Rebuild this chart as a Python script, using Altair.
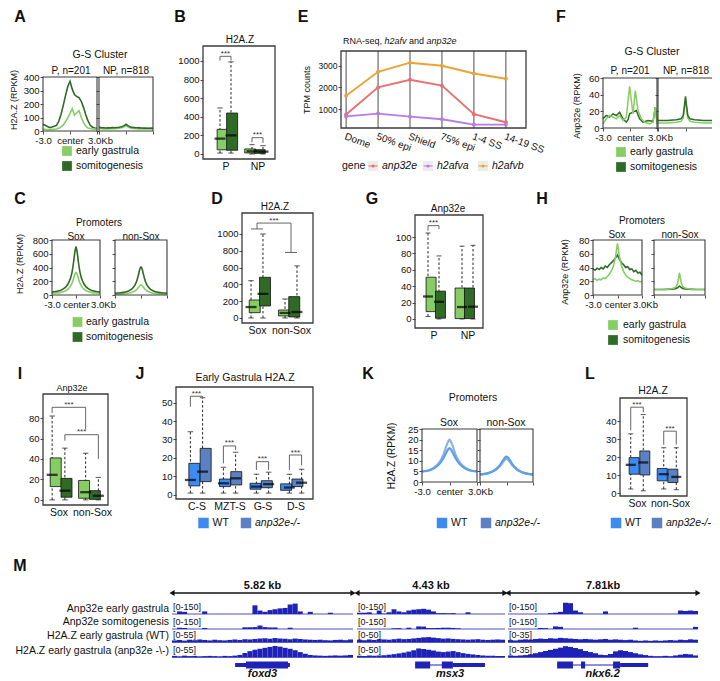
import json
import altair as alt
import pandas as pd

FONT = "Liberation Sans"
W, H = 704, 673

# ======================= DATA =======================
conds_dev = ["early gastrula", "somitogenesis"]
conds_ko = ["WT", "anp32e-/-"]

grid25 = [-3, -2.75, -2.5, -2.25, -2, -1.75, -1.5, -1.25, -1, -0.75, -0.5, -0.25, 0,
          0.25, 0.5, 0.75, 1, 1.25, 1.5, 1.75, 2, 2.25, 2.5, 2.75, 3]
grid19 = [-3, -2.5, -2, -1.5, -1, -0.7, -0.5, -0.3, -0.15, 0, 0.15, 0.3, 0.5, 0.7, 1, 1.5, 2, 2.5, 3]
grid13 = [-3, -2, -1, -0.5, -0.25, -0.1, 0, 0.1, 0.25, 0.5, 1, 2, 3]

# A: H2A.Z profiles, G-S cluster
A_P_early = [15, 12, 10, 10, 12, 12, 15, 20, 30, 45, 68, 98, 130, 165, 118, 135, 150, 102, 62, 36, 22, 18, 15, 14, 12]
A_P_somito = [50, 42, 33, 25, 30, 36, 42, 72, 122, 190, 262, 330, 368, 310, 270, 255, 248, 220, 175, 120, 75, 42, 28, 22, 20]
A_NP_early = [18, 17, 16, 17, 16, 17, 18, 17, 18, 20, 24, 30, 38, 30, 23, 19, 18, 17, 16, 17, 16, 15, 16, 15, 15]
A_NP_somito = [27, 25, 24, 22, 24, 23, 25, 24, 26, 28, 31, 38, 50, 38, 30, 27, 25, 24, 23, 22, 21, 22, 20, 21, 20]

# B: H2A.Z box plots (P / NP)
B_groups = ["P", "NP"]
B_lo = [10, 10, 0, 0]
B_q1 = [45, 40, 11, 7]
B_med = [165, 200, 29, 25]
B_q3 = [265, 440, 54, 46]
B_hi = [495, 990, 100, 89]

# C: H2A.Z promoter profiles
C_sox_early = [25, 28, 35, 50, 85, 125, 170, 240, 300, 330, 300, 240, 170, 125, 85, 50, 35, 28, 25]
C_sox_somito = [45, 50, 65, 95, 160, 240, 330, 480, 620, 700, 620, 480, 330, 240, 160, 95, 65, 50, 45]
C_non_early = [12, 14, 17, 25, 40, 58, 80, 110, 135, 150, 135, 110, 80, 58, 40, 25, 17, 14, 12]
C_non_somito = [28, 30, 38, 55, 95, 145, 200, 290, 370, 410, 370, 290, 200, 145, 95, 55, 38, 30, 28]

# D: H2A.Z box plots (Sox / non-Sox)
D_groups = ["Sox", "non-Sox"]
D_lo = [0, 0, 0, 0]
D_q1 = [63, 143, 24, 12]
D_med = [130, 286, 60, 71]
D_q3 = [214, 484, 95, 254]
D_hi = [444, 1000, 226, 620]

# E: RNA-seq
stages = ["Dome", "50% epi", "Shield", "75% epi", "1-4 SS", "14-19 SS"]
genes = ["anp32e", "h2afva", "h2afvb"]
E_anp32e = [750, 2000, 2350, 2080, 760, 390]
E_h2afva = [660, 790, 650, 530, 280, 280]
E_h2afvb = [1610, 2720, 3140, 3000, 2640, 2400]

# F: Anp32e profiles, G-S cluster
F_P_early_x = [-3, -2.63, -2.26, -1.89, -1.52, -1.15, -0.78, -0.41, -0.04, 0.15, 0.33, 0.59, 0.89, 1.26, 1.63, 2.19, 2.56, 2.81, 3]
F_P_early = [5, 11, 15, 13, 11, 15, 9, 13, 50, 33, 17, 45, 21, 11, 7, 5, 7, 25, 5]
F_P_somito_x = [-3, -2.63, -2.26, -1.89, -1.52, -1.15, -0.78, -0.41, -0.22, -0.04, 0.33, 0.7, 1.07, 1.44, 2.0, 2.56, 2.81, 3]
F_P_somito = [11, 15, 13, 17, 15, 19, 11, 7, 10, 17, 19, 21, 11, 7, 9, 8, 25, 9]
F_NP_early = [6, 6, 7, 8, 12, 25, 35, 25, 12, 8, 7, 6, 6]
F_NP_somito = [9, 9, 10, 11, 15, 28, 38, 28, 15, 11, 10, 9, 9]

# G: Anp32e box plots (P / NP)
G_groups = ["P", "NP"]
G_lo = [3, 0, 0, 0]
G_q1 = [9, 1, 0.5, 0.5]
G_med = [27.5, 21, 14.6, 15]
G_q3 = [51, 34, 37.8, 37.8]
G_hi = [105, 77, 89, 90]

# H: Anp32e promoter profiles
H_sox_early = [22, 24, 21, 23, 22, 25, 24, 27, 30, 35, 42, 55, 75, 55, 42, 34, 29, 26, 24, 22, 21, 20, 21, 19, 20]
H_sox_somito = [38, 36, 39, 37, 40, 38, 42, 40, 44, 47, 50, 54, 58, 52, 47, 44, 40, 41, 37, 38, 34, 36, 32, 33, 29]
H_non_early = [8, 8, 9, 11, 16, 25, 32, 25, 16, 11, 9, 8, 8]
H_non_somito = [8, 8, 8.5, 9, 10.5, 12, 13, 12, 10.5, 9, 8.5, 8, 8]

# I: Anp32e box plots (Sox / non-Sox)
I_groups = ["Sox", "non-Sox"]
I_lo = [0, 0, 0, 0]
I_q1 = [13, 2.6, 1.6, 0.5]
I_med = [24.5, 9, 7.5, 4]
I_q3 = [41, 21, 19, 9]
I_hi = [82, 50.6, 45.6, 22]

# J: early gastrula H2A.Z, WT vs anp32e-/-
J_groups = ["C-S", "MZT-S", "G-S", "D-S"]
J_lo = [1, 1, 1, 1, 1, 1, 1, 1]
J_q1 = [4.9, 7.2, 4.5, 5.4, 3.1, 3.9, 2.5, 4.5]
J_med = [8.1, 12.6, 6.3, 9, 4.5, 5.8, 4, 6.6]
J_q3 = [17.1, 25.2, 8.6, 12.6, 6.3, 7.7, 6, 8.6]
J_hi = [34.2, 52.6, 15, 23.1, 11.2, 12.3, 11.2, 13.9]

# K: H2A.Z promoter profiles, WT vs mutant
K_sox_wt = [5, 5.2, 5.8, 7, 9, 11, 12.6, 14.3, 15.4, 16, 15.4, 14.3, 12.6, 11, 9, 7, 5.8, 5.2, 5]
K_sox_mut = [5, 5.3, 6, 7.5, 10, 12.5, 15, 17.5, 19, 20, 19, 17.5, 15, 12.5, 10, 7.5, 6, 5.3, 5]
K_non_wt = [3.6, 3.8, 4.3, 5.2, 6.8, 8.2, 9.5, 10.8, 11.6, 12, 11.6, 10.8, 9.5, 8.2, 6.8, 5.2, 4.3, 3.8, 3.6]
K_non_mut = [3.5, 3.7, 4.2, 5, 6.4, 7.6, 8.8, 9.9, 10.6, 11, 10.6, 9.9, 8.8, 7.6, 6.4, 5, 4.2, 3.7, 3.5]

# L: H2A.Z box plots, WT vs mutant
L_groups = ["Sox", "non-Sox"]
L_lo = [2.4, 1.4, 2.4, 2]
L_q1 = [10.6, 10.2, 6.9, 6]
L_med = [15.8, 17.1, 10.6, 9.1]
L_q3 = [19.8, 23.5, 13.8, 13.4]
L_hi = [33, 43.7, 25.3, 25.3]

# M: genome browser tracks
regions = ["foxd3", "msx3", "nkx6.2"]
region_kb = [5.82, 4.43, 7.81]
region_label = ["5.82 kb", "4.43 kb", "7.81kb"]
track_names = ["Anp32e early gastrula", "Anp32e somitogenesis",
               "H2A.Z early gastrula (WT)", "H2A.Z early gastrula (anp32e -\\-)"]
track_max = [[150, 150, 55, 55], [150, 150, 50, 50], [150, 150, 35, 35]]
cov_foxd3 = [
    [0, 30, 25, 0, 0, 0, 30, 0, 0, 0, 0, 0, 0, 0, 0, 0, 100, 40, 25, 45, 55, 65, 70, 110, 120, 30, 0, 25, 0, 0, 0, 15, 0, 0, 0, 0],
    [0, 15, 12, 0, 0, 0, 12, 0, 0, 0, 0, 0, 0, 0, 20, 20, 22, 40, 22, 18, 18, 0, 0, 15, 0, 0, 0, 0, 0, 0, 0, 0, 0, 0, 0, 0],
    [8, 10, 7, 11, 9, 12, 10, 8, 11, 9, 8, 10, 12, 10, 13, 12, 14, 16, 17, 15, 18, 16, 15, 13, 16, 14, 12, 11, 10, 11, 9, 8, 10, 11, 9, 12],
    [6, 4, 7, 5, 6, 4, 5, 6, 5, 4, 6, 5, 7, 10, 18, 26, 32, 36, 40, 44, 48, 45, 40, 36, 30, 22, 15, 10, 8, 7, 6, 7, 8, 7, 8, 10],
]
cov_msx3 = [
    [15, 15, 20, 0, 40, 5, 20, 55, 30, 20, 40, 50, 55, 60, 50, 30, 10, 10, 8, 10, 0, 0, 20, 0, 0, 0, 0, 0, 0, 0],
    [0, 0, 0, 0, 0, 0, 0, 8, 10, 0, 15, 0, 30, 28, 10, 10, 12, 15, 15, 12, 8, 0, 0, 0, 0, 0, 0, 0, 0, 0],
    [10, 8, 11, 9, 12, 11, 10, 12, 14, 12, 13, 15, 17, 19, 20, 18, 16, 14, 15, 13, 12, 11, 10, 11, 12, 10, 9, 10, 11, 10],
    [6, 5, 7, 6, 7, 8, 10, 12, 15, 18, 22, 27, 34, 32, 29, 26, 22, 20, 22, 24, 20, 16, 13, 11, 9, 7, 6, 6, 5, 5],
]
cov_nkx62 = [
    [0, 0, 0, 0, 0, 0, 0, 0, 10, 15, 25, 130, 125, 40, 20, 0, 0, 0, 0, 30, 0, 0, 0, 0, 0, 0, 0, 0, 0, 0, 0, 0, 0, 0, 40, 35, 40, 35],
    [0, 0, 0, 0, 0, 0, 12, 10, 0, 30, 25, 0, 0, 0, 0, 0, 0, 0, 0, 0, 0, 0, 0, 0, 0, 15, 0, 0, 0, 0, 0, 0, 0, 0, 0, 0, 0, 25],
    [6, 5, 7, 8, 7, 9, 10, 9, 11, 10, 12, 11, 10, 9, 8, 9, 8, 7, 8, 9, 7, 8, 7, 6, 7, 5, 4, 5, 4, 5, 4, 5, 6, 5, 7, 6, 8, 7],
    [5, 4, 5, 6, 8, 11, 14, 17, 20, 23, 26, 30, 28, 25, 22, 17, 14, 11, 7, 6, 9, 16, 19, 17, 14, 11, 8, 6, 4, 3, 3, 4, 3, 5, 7, 9, 8, 5],
]
coverage = [cov_foxd3, cov_msx3, cov_nkx62]
gene_span = [(2.03, 3.79), (1.74, 3.83), (2.02, 5.76)]
gene_blocks = [
    [(2.03, 2.38, "utr"), (2.38, 3.73, "cds"), (3.73, 3.79, "utr")],
    [(1.74, 2.19, "cds"), (2.54, 2.87, "cds"), (2.87, 3.83, "utr")],
    [(2.02, 2.67, "cds"), (3.0, 3.17, "cds"), (4.32, 4.61, "cds"), (4.61, 5.76, "utr")],
]

# ======================= STYLE / LAYOUT =======================
LIGHT = "#86CE63"
DARK = "#2F6B27"
WTC = "#3D8BF0"
MUTC = "#5B80C3"
KWT = "#5E9FE8"
KMUT = "#8DB3E2"
FRAMEC = "#3c3c3c"
TRK = "#1E22B8"
gene_colors = ["#E8716F", "#B87BE8", "#E9A434"]

ONE = alt.Data(values=[{"k": 0}])
layers = []


def px(v):
    return v - 8


def py(v):
    return v - 8


def sc(dom, r0, r1):
    return alt.Scale(domain=list(dom), range=[r0, r1], nice=False, zero=False)


def xscale(dom, x0, x1):
    return sc(dom, px(x0), px(x1))


def yscale(dom, y0, y1):
    return sc(dom, py(y1), py(y0))


def ax_bottom(ypix, values, **kw):
    d = dict(orient="bottom", offset=py(ypix) - H, values=values, domain=False, grid=False,
             ticks=True, tickSize=3, tickColor="#222", tickWidth=0.8, labels=True,
             labelFont=FONT, labelFontSize=9.5, labelColor="#111", labelPadding=1,
             labelFlush=False, labelOverlap=False, title=None)
    d.update(kw)
    return alt.Axis(**d)


def ax_left(xpix, values, **kw):
    d = dict(orient="left", offset=-px(xpix), values=values, domain=False, grid=False,
             ticks=True, tickSize=3, tickColor="#222", tickWidth=0.8, labels=True, format="d",
             labelFont=FONT, labelFontSize=9.5, labelColor="#111", labelPadding=1,
             labelFlush=False, labelOverlap=False, title=None)
    d.update(kw)
    return alt.Axis(**d)


def text(s, x, y, size=10.5, weight="normal", style="normal", align="center",
         baseline="middle", angle=0, color="#111"):
    layers.append(alt.Chart(ONE).mark_text(
        text=s, font=FONT, fontSize=size, fontWeight=weight, fontStyle=style,
        align=align, baseline=baseline, angle=angle, color=color
    ).encode(x=alt.value(px(x)), y=alt.value(py(y))))


def frame(xs, ys, xdom, ydom, sw=1.3):
    layers.append(alt.Chart(ONE).mark_rect(fillOpacity=0, stroke=FRAMEC, strokeWidth=sw).encode(
        x=alt.XDatum(xdom[0], type="quantitative", scale=xs, axis=None),
        x2=alt.X2Datum(xdom[1]),
        y=alt.YDatum(ydom[0], type="quantitative", scale=ys, axis=None),
        y2=alt.Y2Datum(ydom[1])))


PROFILE_LABELS = "datum.value == -3 ? '-3.0' : (datum.value == 0 ? 'center' : '3.0Kb')"
PROFILE_OFFSET = {"condition": {"test": "datum.value == 3", "value": 3}, "value": 0}


def profile(x0, x1, y0, y1, ydom, yvals, series, ylabels=True, xlabels=True, interp="linear"):
    xs = xscale([-3, 3], x0, x1)
    ys = yscale(ydom, y0, y1)
    for i, (xv, yv, col, sw) in enumerate(series):
        df = pd.DataFrame({"x": xv, "y": yv})
        if i == 0:
            xa = ax_bottom(y1, [-3, 0, 3], labels=xlabels, labelExpr=PROFILE_LABELS, labelFontSize=9.5,
                           labelOffset=PROFILE_OFFSET)
            ya = ax_left(x0, yvals, labels=ylabels)
            layers.append(alt.Chart(df).mark_line(color=col, strokeWidth=sw, interpolate=interp).encode(
                x=alt.X("x:Q", scale=xs, axis=xa), y=alt.Y("y:Q", scale=ys, axis=ya)))
        else:
            layers.append(alt.Chart(df).mark_line(color=col, strokeWidth=sw, interpolate=interp).encode(
                x=alt.X("x:Q", scale=xs, axis=None), y=alt.Y("y:Q", scale=ys, axis=None)))
    frame(xs, ys, [-3, 3], ydom, sw=1.1)


def box_panel(groups, conds, colors, lo, q1, med, q3, hi, fx, fy, centers, d, ydom, yvals,
              brackets=None, bw=11, xlab_size=10.5, ylab_size=9.5):
    s = centers[1] - centers[0]
    xdom = [(fx[0] - centers[0]) / s, (fx[1] - centers[0]) / s]
    xs = xscale(xdom, fx[0], fx[1])
    ys = yscale(ydom, fy[0], fy[1])
    rows = [(g, c) for g in groups for c in conds]
    df = pd.DataFrame({"group": [r[0] for r in rows], "cond": [r[1] for r in rows],
                       "lo": lo, "q1": q1, "med": med, "q3": q3, "hi": hi})
    gexp = json.dumps(groups)
    c0, c1 = json.dumps(conds[0]), json.dumps(conds[1])
    base = alt.Chart(df).transform_calculate(
        pos=f"indexof({gexp}, datum.group) + (datum.cond == {c0} ? {-d} : {d})")
    xa = ax_bottom(fy[1], list(range(len(groups))), ticks=False, labelExpr=f"{gexp}[datum.value]",
                   labelFontSize=xlab_size, labelPadding=2, labelBaseline="top")
    ya = ax_left(fx[0], yvals, labelFontSize=ylab_size)
    X = lambda ax=None: alt.X("pos:Q", scale=xs, axis=ax)
    layers.append(base.mark_rule(color="#111", strokeWidth=0.9, strokeDash=[2.5, 2]).encode(
        x=X(xa), y=alt.Y("lo:Q", scale=ys, axis=ya), y2="hi:Q"))
    for fld in ["lo", "hi"]:
        layers.append(base.mark_tick(orient="horizontal", color="#111", size=bw * 0.5, thickness=1).encode(
            x=X(), y=alt.Y(f"{fld}:Q", scale=ys, axis=None)))
    layers.append(base.mark_bar(size=bw, stroke="#111", strokeWidth=0.8).encode(
        x=X(), y=alt.Y("q1:Q", scale=ys, axis=None), y2="q3:Q",
        color=alt.Color("cond:N", scale=alt.Scale(domain=conds, range=colors), legend=None)))
    layers.append(base.mark_tick(orient="horizontal", color="#000", size=bw, thickness=2.3).encode(
        x=X(), y=alt.Y("med:Q", scale=ys, axis=None)))
    if brackets:
        bdf = pd.DataFrame(brackets, columns=["gl", "cl", "gr", "cr", "top", "lb", "rb", "lab"])

        def side(g, c):
            return (f"indexof({gexp}, datum.{g}) + (datum.{c} == {c0} ? {-d} : "
                    f"(datum.{c} == {c1} ? {d} : 0))")
        bb = alt.Chart(bdf).transform_calculate(xl=side("gl", "cl"), xr=side("gr", "cr")).transform_calculate(
            xm="(datum.xl + datum.xr) / 2")
        bcol = "#555"
        layers.append(bb.mark_rule(color=bcol, strokeWidth=0.9).encode(
            x=alt.X("xl:Q", scale=xs, axis=None), x2="xr:Q", y=alt.Y("top:Q", scale=ys, axis=None)))
        layers.append(bb.mark_rule(color=bcol, strokeWidth=0.9).encode(
            x=alt.X("xl:Q", scale=xs, axis=None), y=alt.Y("lb:Q", scale=ys, axis=None), y2="top:Q"))
        layers.append(bb.mark_rule(color=bcol, strokeWidth=0.9).encode(
            x=alt.X("xr:Q", scale=xs, axis=None), y=alt.Y("rb:Q", scale=ys, axis=None), y2="top:Q"))
        layers.append(bb.mark_text(font=FONT, fontSize=8, color="#333", dy=-0.5, baseline="alphabetic").encode(
            x=alt.X("xm:Q", scale=xs, axis=None), y=alt.Y("top:Q", scale=ys, axis=None), text="lab:N"))
    frame(xs, ys, xdom, ydom)


def legend_v(items, colors, xsq, y0, step, xtxt, size=10.5, sq=95):
    ys = alt.Scale(type="point", domain=items, range=[py(y0), py(y0 + step * (len(items) - 1))], padding=0)
    df = pd.DataFrame({"item": items})
    cs = alt.Scale(domain=items, range=colors)
    layers.append(alt.Chart(df).mark_square(size=sq, opacity=1).encode(
        x=alt.value(px(xsq)), y=alt.Y("item:N", scale=ys, axis=None),
        color=alt.Color("item:N", scale=cs, legend=None)))
    layers.append(alt.Chart(df).mark_text(align="left", baseline="middle", font=FONT, fontSize=size,
                                          color="#111").encode(
        x=alt.value(px(xtxt)), y=alt.Y("item:N", scale=ys, axis=None), text="item:N"))


def legend_h(items, colors, styles, xfirst, xlast, y, size=10.5, sq=110):
    xs = alt.Scale(type="point", domain=items, range=[px(xfirst), px(xlast)], padding=0)
    df = pd.DataFrame({"item": items})
    cs = alt.Scale(domain=items, range=colors)
    layers.append(alt.Chart(df).mark_square(size=sq, opacity=1).encode(
        y=alt.value(py(y)), x=alt.X("item:N", scale=xs, axis=None),
        color=alt.Color("item:N", scale=cs, legend=None)))
    for it, st in zip(items, styles):
        layers.append(alt.Chart(df).transform_filter(alt.datum.item == it).mark_text(
            align="left", baseline="middle", font=FONT, fontSize=size, fontStyle=st, dx=9, color="#111").encode(
            y=alt.value(py(y)), x=alt.X("item:N", scale=xs, axis=None), text="item:N"))


LETTER = 16

# ======================= PANELS =======================
# ---- A ----
text("A", 20, 17, size=LETTER, weight="bold")
text("G-S Cluster", 100, 55)
text("P, n=201", 71, 71, size=10)
text("NP, n=818", 126, 71, size=10)
text("H2A.Z (RPKM)", 14, 100, size=9, angle=270)
profile(43, 97, 77, 131, [0, 400], [0, 100, 200, 300, 400],
        [(grid25, A_P_somito, DARK, 1.6), (grid25, A_P_early, LIGHT, 1.6)])
profile(99, 153, 77, 131, [0, 400], [0, 100, 200, 300, 400],
        [(grid25, A_NP_early, LIGHT, 1.6), (grid25, A_NP_somito, DARK, 1.6)], ylabels=False, xlabels=False)
legend_v(conds_dev, [LIGHT, DARK], 67, 151, 15, 76)

# ---- B ----
text("B", 180, 17, size=LETTER, weight="bold")
text("H2A.Z", 240, 40, size=10)
box_panel(B_groups, conds_dev, [LIGHT, DARK], B_lo, B_q1, B_med, B_q3, B_hi,
          (203, 275), (46, 159), (225.5, 257.5), 0.172, [-54, 1161], [0, 200, 400, 600, 800, 1000],
          brackets=[("P", conds_dev[0], "P", conds_dev[1], 1050, 1005, 1005, "***"),
                    ("NP", conds_dev[0], "NP", conds_dev[1], 175, 125, 118, "***")])

# ---- E ----
text("E", 303, 17, size=LETTER, weight="bold")
text("RNA-seq,", 343, 41, size=9, align="left")
text("h2afv", 384.5, 41, size=9, style="italic", align="left")
text("and", 409, 41, size=9, align="left")
text("anp32e", 426.5, 41, size=9, style="italic", align="left")
text("TPM counts", 307, 90, size=9, angle=270)
xsE = xscale([-0.16, 5.63], 341, 526)
ysE = yscale([125, 3680], 51, 128)
stage_idx = f"indexof({json.dumps(stages)}, datum.stage)"
dfE = pd.DataFrame({"stage": stages * 3,
                    "gene": [g for g in genes for _ in stages],
                    "tpm": E_anp32e + E_h2afva + E_h2afvb})
layers.append(alt.Chart(pd.DataFrame({"stage": stages})).transform_calculate(idx=stage_idx).mark_rule(
    color="#3a3a3a", strokeWidth=0.9).encode(
    x=alt.X("idx:Q", scale=xsE, axis=ax_bottom(128, list(range(len(stages))), ticks=False,
                                               labelExpr=f"{json.dumps(stages)}[datum.value]",
                                               labelAngle=20, labelAlign="left", labelBaseline="top",
                                               labelPadding=3, labelFontSize=10)),
    y=alt.YDatum(125, type="quantitative", scale=ysE, axis=ax_left(341, [1000, 2000, 3000], labelFontSize=8.5)),
    y2=alt.Y2Datum(3680)))
geneScale = alt.Scale(domain=genes, range=gene_colors)
baseE = alt.Chart(dfE).transform_calculate(idx=stage_idx)
layers.append(baseE.mark_line(strokeWidth=1.9).encode(
    x=alt.X("idx:Q", scale=xsE, axis=None), y=alt.Y("tpm:Q", scale=ysE, axis=None),
    color=alt.Color("gene:N", scale=geneScale, legend=None)))
layers.append(baseE.mark_circle(size=16, opacity=1).encode(
    x=alt.X("idx:Q", scale=xsE, axis=None), y=alt.Y("tpm:Q", scale=ysE, axis=None),
    color=alt.Color("gene:N", scale=geneScale, legend=None)))
frame(xsE, ysE, [-0.16, 5.63], [125, 3680])
# E legend
text("gene", 342, 166, size=10.5, align="left")
lxE = alt.Scale(type="point", domain=genes, range=[px(373), px(483)], padding=0)
gdf = pd.DataFrame({"gene": genes})
layers.append(alt.Chart(gdf).mark_square(size=110, color="#ececec", opacity=1).encode(
    x=alt.X("gene:N", scale=lxE, axis=None), y=alt.value(py(166))))
layers.append(alt.Chart(gdf).mark_tick(orient="horizontal", size=9, thickness=1.5).encode(
    x=alt.X("gene:N", scale=lxE, axis=None), y=alt.value(py(166)),
    color=alt.Color("gene:N", scale=geneScale, legend=None)))
layers.append(alt.Chart(gdf).mark_circle(size=10, opacity=1).encode(
    x=alt.X("gene:N", scale=lxE, axis=None), y=alt.value(py(166)),
    color=alt.Color("gene:N", scale=geneScale, legend=None)))
layers.append(alt.Chart(gdf).mark_text(align="left", baseline="middle", font=FONT, fontSize=10.5,
                                       fontStyle="italic", dx=9, color="#111").encode(
    x=alt.X("gene:N", scale=lxE, axis=None), y=alt.value(py(166)), text="gene:N"))

# ---- F ----
text("F", 561, 17, size=LETTER, weight="bold")
text("G-S Cluster", 652, 52)
text("P, n=201", 630, 71, size=10)
text("NP, n=818", 686, 71, size=10)
text("Anp32e (RPKM)", 577, 106, size=9, angle=270)
profile(603, 657, 78, 128, [0, 60], [0, 20, 40, 60],
        [(F_P_somito_x, F_P_somito, DARK, 1.5), (F_P_early_x, F_P_early, LIGHT, 1.5)])
profile(658, 713, 78, 128, [0, 60], [0, 20, 40, 60],
        [(grid13, F_NP_early, LIGHT, 1.5), (grid13, F_NP_somito, DARK, 1.5)], ylabels=False, xlabels=False)
legend_v(conds_dev, [LIGHT, DARK], 621, 152, 15, 630)

# ---- C ----
text("C", 20, 199, size=LETTER, weight="bold")
text("Promoters", 99, 223, size=10)
text("Sox", 76, 237, size=10)
text("non-Sox", 141, 237, size=10)
text("H2A.Z (RPKM)", 20, 264, size=9, angle=270)
profile(52, 100, 240, 295, [0, 800], [0, 200, 400, 600, 800],
        [(grid19, C_sox_early, LIGHT, 1.6), (grid19, C_sox_somito, DARK, 1.6)], interp="monotone")
profile(115, 167, 240, 295, [0, 800], [0, 200, 400, 600, 800],
        [(grid19, C_non_early, LIGHT, 1.6), (grid19, C_non_somito, DARK, 1.6)],
        ylabels=False, xlabels=False, interp="monotone")
legend_v(conds_dev, [LIGHT, DARK], 77.5, 322, 15, 86)

# ---- D ----
text("D", 217, 199, size=LETTER, weight="bold")
text("H2A.Z", 275, 207, size=10)
box_panel(D_groups, conds_dev, [LIGHT, DARK], D_lo, D_q1, D_med, D_q3, D_hi,
          (242, 313), (213, 323), (257, 291), 0.176, [-60, 1250], [0, 200, 400, 600, 800, 1000],
          brackets=[("Sox", "mid", "non-Sox", "mid", 1130, 1060, 780, "***"),
                    ("Sox", conds_dev[0], "Sox", conds_dev[1], 1060, 1060, 1060, ""),
                    ("non-Sox", conds_dev[0], "non-Sox", conds_dev[1], 780, 780, 780, "")])

# ---- G ----
text("G", 372, 199, size=LETTER, weight="bold")
text("Anp32e", 448, 209, size=10)
box_panel(G_groups, conds_dev, [LIGHT, DARK], G_lo, G_q1, G_med, G_q3, G_hi,
          (415, 483), (215, 328), (433.5, 467.5), 0.162, [-11, 127], [0, 20, 40, 60, 80, 100],
          bw=10, brackets=[("P", conds_dev[0], "P", conds_dev[1], 114, 108, 110, "***")])

# ---- H ----
text("H", 542, 199, size=LETTER, weight="bold")
text("Promoters", 642, 221, size=10)
text("Sox", 617, 235, size=10)
text("non-Sox", 680, 235, size=10)
text("Anp32e (RPKM)", 565, 272, size=9, angle=270)
profile(593, 642, 240, 295, [0, 80], [0, 20, 40, 60, 80],
        [(grid25, H_sox_somito, DARK, 1.6), (grid25, H_sox_early, LIGHT, 1.6)])
profile(654, 705, 240, 295, [0, 80], [0, 20, 40, 60, 80],
        [(grid13, H_non_somito, DARK, 1.6), (grid13, H_non_early, LIGHT, 1.6)],
        ylabels=False, xlabels=False, interp="monotone")
legend_v(conds_dev, [LIGHT, DARK], 613, 325, 15, 623)

# ---- I ----
text("I", 20, 374, size=LETTER, weight="bold")
text("Anp32e", 72, 388, size=9)
box_panel(I_groups, conds_dev, [LIGHT, DARK], I_lo, I_q1, I_med, I_q3, I_hi,
          (43, 108), (394, 505), (58.5, 92), 0.19, [-5, 103.5], [0, 20, 40, 60, 80],
          brackets=[("Sox", conds_dev[0], "non-Sox", conds_dev[0], 90.5, 85, 69, "***"),
                    ("Sox", conds_dev[1], "non-Sox", conds_dev[1], 63.7, 57.8, 40, "***")])

# ---- J ----
text("J", 140, 374, size=LETTER, weight="bold")
text("Early Gastrula H2A.Z", 245, 378, size=10.5)
box_panel(J_groups, conds_ko, [WTC, MUTC], J_lo, J_q1, J_med, J_q3, J_hi,
          (176, 313), (387, 499), (196.5, 229.5), 0.185, [-2.2, 58.4], [0, 10, 20, 30, 40, 50],
          bw=11, brackets=[("C-S", "WT", "C-S", "anp32e-/-", 53.4, 47.7, 52.6, "***"),
                           ("MZT-S", "WT", "MZT-S", "anp32e-/-", 26.5, 17.1, 24.3, "***"),
                           ("G-S", "WT", "G-S", "anp32e-/-", 18, 13.5, 13.5, "***"),
                           ("D-S", "WT", "D-S", "anp32e-/-", 21.6, 13.5, 16, "***")])
legend_h(conds_ko, [WTC, MUTC], ["normal", "italic"], 203.5, 246, 523)

# ---- K ----
text("K", 368, 374, size=LETTER, weight="bold")
text("Promoters", 473, 398, size=10.5)
text("Sox", 449, 423, size=10.5)
text("non-Sox", 506, 423, size=10.5)
text("H2A.Z (RPKM)", 392, 456, size=10, angle=270)
profile(422, 477, 429, 482, [0, 25], [0, 5, 10, 15, 20, 25],
        [(grid19, K_sox_mut, KMUT, 2.2), (grid19, K_sox_wt, KWT, 2.2)], interp="monotone")
profile(480, 533, 429, 482, [0, 25], [0, 5, 10, 15, 20, 25],
        [(grid19, K_non_mut, KMUT, 2.2), (grid19, K_non_wt, KWT, 2.2)],
        ylabels=False, xlabels=False, interp="monotone")
legend_h(conds_ko, [WTC, MUTC], ["normal", "italic"], 442, 486, 523)

# ---- L ----
text("L", 590, 374, size=LETTER, weight="bold")
text("H2A.Z", 653, 391, size=10.5)
box_panel(L_groups, conds_ko, [WTC, MUTC], L_lo, L_q1, L_med, L_q3, L_hi,
          (620, 687), (398, 496), (637, 670), 0.19, [-1.5, 52.9], [0, 10, 20, 30, 40],
          bw=10, brackets=[("Sox", "WT", "Sox", "anp32e-/-", 47.8, 35, 45, "***"),
                           ("non-Sox", "WT", "non-Sox", "anp32e-/-", 34.5, 27, 27, "***")])
legend_h(conds_ko, [WTC, MUTC], ["normal", "italic"], 616, 657, 523)

# ---- M ----
text("M", 20, 566, size=LETTER, weight="bold")
region_px = [(172, 353), (357, 505), (508, 698)]
baselines = [614, 629, 642.3, 657.3]
label_y = [609, 622, 636, 650.5]
TH = 13
for name, ly in zip(track_names, label_y):
    text(name, 169, ly, size=10.5, align="right")
for r, (x0, x1) in enumerate(region_px):
    L = region_kb[r]
    xs = xscale([0, L], x0, x1)
    layers.append(alt.Chart(ONE).mark_rule(color="#111", strokeWidth=1.4).encode(
        x=alt.XDatum(0, type="quantitative", scale=xs, axis=None), x2=alt.X2Datum(L),
        y=alt.value(py(593))))
    layers.append(alt.Chart(ONE).mark_point(shape="triangle-left", filled=True, size=35, color="#111",
                                            opacity=1).encode(
        x=alt.XDatum(0, type="quantitative", scale=xs, axis=None), y=alt.value(py(593))))
    layers.append(alt.Chart(ONE).mark_point(shape="triangle-right", filled=True, size=35, color="#111",
                                            opacity=1).encode(
        x=alt.XDatum(L, type="quantitative", scale=xs, axis=None), y=alt.value(py(593))))
    text(region_label[r], (x0 + x1) / 2, 586, size=11, weight="bold")
    for t in range(4):
        vals = coverage[r][t]
        nb = len(vals)
        ys = sc([0, track_max[r][t]], py(baselines[t]), py(baselines[t] - TH))
        cdf = pd.DataFrame({"i": list(range(nb)), "v": vals})
        layers.append(alt.Chart(cdf).transform_calculate(
            a=f"datum.i * {L} / {nb}", b=f"(datum.i + 1) * {L} / {nb}").mark_rect(color=TRK).encode(
            x=alt.X("a:Q", scale=xs, axis=None), x2="b:Q",
            y=alt.Y("v:Q", scale=ys, axis=None), y2=alt.Y2Datum(0)))
        layers.append(alt.Chart(ONE).mark_rule(color=TRK, strokeWidth=0.8).encode(
            x=alt.XDatum(0, type="quantitative", scale=xs, axis=None), x2=alt.X2Datum(L),
            y=alt.YDatum(0, type="quantitative", scale=ys, axis=None)))
        text(f"[0-{track_max[r][t]}]", x0 + 1, baselines[t] - 7, size=9, align="left")
    gs, ge = gene_span[r]
    layers.append(alt.Chart(ONE).mark_rule(color=TRK, strokeWidth=1).encode(
        x=alt.XDatum(gs, type="quantitative", scale=xs, axis=None), x2=alt.X2Datum(ge),
        y=alt.value(py(665))))
    gdf2 = pd.DataFrame(gene_blocks[r], columns=["s", "e", "kind"])
    for kind, hh in [("cds", 7), ("utr", 4)]:
        layers.append(alt.Chart(gdf2).transform_filter(alt.datum.kind == kind).mark_rect(color=TRK).encode(
            x=alt.X("s:Q", scale=xs, axis=None), x2="e:Q",
            y=alt.value(py(665 - hh / 2)), y2=alt.value(py(665 + hh / 2))))
    text(regions[r], x0 + (x1 - x0) * ((gs + ge) / 2) / L, 677, size=11, weight="bold", style="italic",
         baseline="alphabetic")

chart = alt.layer(*layers).resolve_scale(
    x="independent", y="independent", color="independent"
).properties(
    width=W, height=H, autosize=alt.AutoSizeParams(type="none"), padding=0, background="white"
).configure_view(strokeWidth=0)

chart.save("out.html", embed_options={"renderer": "svg", "actions": False})
